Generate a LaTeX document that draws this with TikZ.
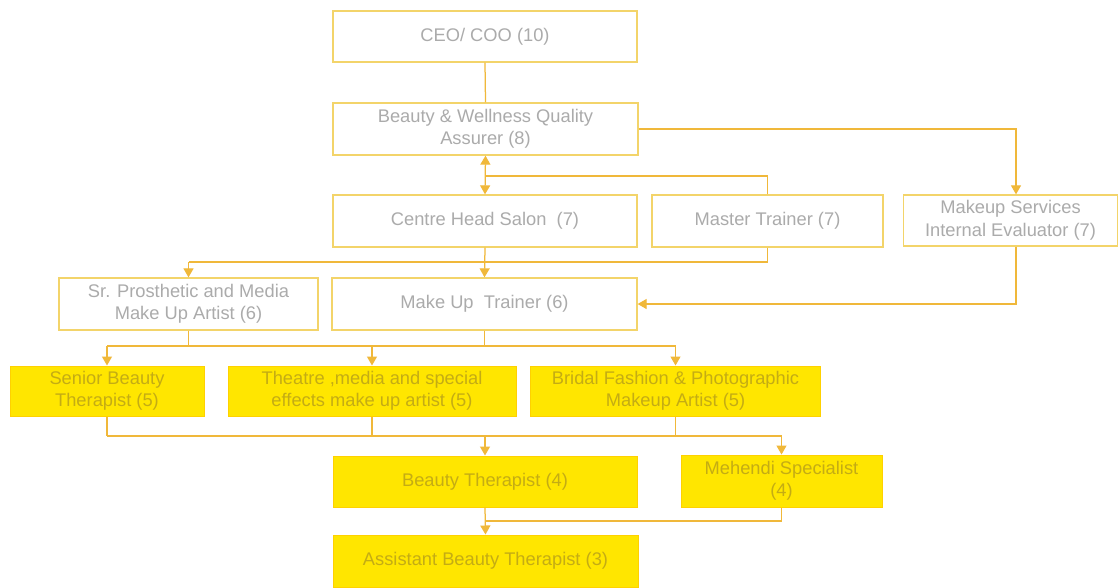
\documentclass[tikz,border=0pt]{standalone}
\usepackage{fontspec}
\setmainfont{Liberation Sans}
\usetikzlibrary{arrows.meta}
\definecolor{bordc}{HTML}{F3D46A}
\definecolor{linec}{HTML}{F0B83A}
\definecolor{fillc}{HTML}{FFE600}
\definecolor{txtw}{HTML}{ABABAB}
\definecolor{txty}{HTML}{C4AC14}
\tikzset{
  wbox/.style={draw=bordc, line width=1.3pt, fill=white, text=txtw, align=center, inner sep=0pt,
     font=\fontsize{18.3}{22.5}\selectfont},
  ybox/.style={draw=fillc!80!orange, line width=1pt, fill=fillc, text=txty, align=center, inner sep=0pt,
     font=\fontsize{18.3}{22.5}\selectfont},
  ln/.style={draw=linec, line width=1.25pt},
  arr/.style={-{Triangle[width=10pt,length=9pt]}},
  darr/.style={{Triangle[width=10pt,length=9pt]}-{Triangle[width=10pt,length=9pt]}}
}
\begin{document}
\begin{tikzpicture}[x=1pt,y=-1pt]
\useasboundingbox (0,0) rectangle (1119,587);
\fill[white] (0,0) rectangle (1119,587);
% nodes
\node[wbox, minimum width=304pt, minimum height=51pt] (ceo) at (485,36.5) {CEO/ COO (10)};
\node[wbox, minimum width=305pt, minimum height=52pt] (bwqa) at (485.5,129) {Beauty \& Wellness Quality\\Assurer (8)};
\node[wbox, minimum width=304pt, minimum height=52pt] (chs) at (485,221) {Centre Head Salon\ \ (7)};
\node[wbox, minimum width=231pt, minimum height=52pt] (mt) at (767.5,221) {Master Trainer (7)};
\node[wbox, minimum width=214pt, minimum height=51pt] (msie) at (1010.5,220.5) {Makeup Services\\Internal Evaluator (7)};
\node[wbox, minimum width=259pt, minimum height=52pt] (spm) at (188.5,304) {Sr. Prosthetic and Media\\Make Up Artist (6)};
\node[wbox, minimum width=305pt, minimum height=52pt] (mut) at (484.5,304) {Make Up\ \ Trainer (6)};
\node[ybox, minimum width=194pt, minimum height=50pt] (sbt) at (107,391) {Senior Beauty\\Therapist (5)};
\node[ybox, minimum width=288pt, minimum height=50pt] (thr) at (372,391) {Theatre ,media and special\\effects make up artist (5)};
\node[ybox, minimum width=290pt, minimum height=50pt] (bfp) at (675.5,391) {Bridal Fashion \& Photographic\\Makeup Artist (5)};
\node[ybox, minimum width=304pt, minimum height=51pt] (bt) at (485,481.5) {Beauty Therapist (4)};
\node[ybox, minimum width=201pt, minimum height=52pt] (meh) at (781.5,481) {Mehendi Specialist\\(4)};
\node[ybox, minimum width=305pt, minimum height=52pt] (abt) at (485.5,561) {Assistant Beauty Therapist (3)};
% helper coordinates
\coordinate (msiex) at (1016,0);
\coordinate (jt) at (485,176);
\coordinate (r4) at (0,262);
\coordinate (r5) at (0,346);
\coordinate (r6) at (0,436);
\coordinate (r7) at (0,521);
% connectors
\draw[ln] (ceo.south) -- (bwqa.north);
\draw[ln,arr] (bwqa.east) -| (msie.north -| msiex);
\draw[ln,darr] (bwqa.south) -- (chs.north);
\draw[ln] (mt.north) |- (jt);
\draw[ln,arr] (chs.south) -- (mut.north);
\draw[ln] (mt.south) |- (spm.north |- r4);
\draw[ln,arr] (spm.north |- r4) -- (spm.north);
\draw[ln,arr] (msie.south -| msiex) |- (mut.east);
% row 5
\draw[ln] (mut.south) -- (mut.south |- r5);
\draw[ln] (spm.south) -- (spm.south |- r5);
\draw[ln] (sbt.north |- r5) -- (bfp.north |- r5);
\draw[ln,arr] (sbt.north |- r5) -- (sbt.north);
\draw[ln,arr] (thr.north |- r5) -- (thr.north);
\draw[ln,arr] (bfp.north |- r5) -- (bfp.north);
% row 6
\draw[ln] (sbt.south) -- (sbt.south |- r6);
\draw[ln] (thr.south) -- (thr.south |- r6);
\draw[ln] (bfp.south) -- (bfp.south |- r6);
\draw[ln] (sbt.south |- r6) -- (meh.north |- r6);
\draw[ln,arr] (bt.north |- r6) -- (bt.north);
\draw[ln,arr] (meh.north |- r6) -- (meh.north);
% bottom
\draw[ln,arr] (bt.south) -- (abt.north);
\draw[ln] (meh.south) |- (bt.south |- r7);
\end{tikzpicture}
\end{document}
